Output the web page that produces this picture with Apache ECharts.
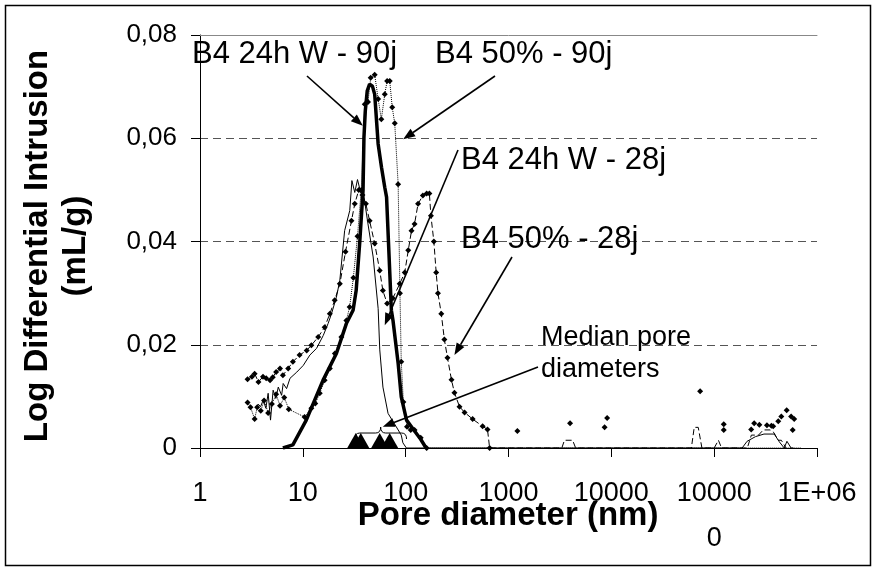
<!DOCTYPE html>
<html>
<head>
<meta charset="utf-8">
<script src="https://cdn.jsdelivr.net/npm/echarts@6/dist/echarts.min.js"></script>
<style>
html, body { margin: 0; padding: 0; background: #fff; }
#chart { width: 877px; height: 572px; }
</style>
</head>
<body>
<div id="chart"></div>
<script>
// pore diameter (nm) and log differential intrusion (mL/g)
const w90Pore = [6.4, 8.0, 10.8, 15.7, 21.2, 26.5, 30.8, 33, 35.8, 38.5, 39.3, 40.5, 42.3, 44.6, 47.5, 50, 54, 58.2, 62.6, 65.2, 72.6, 75.3, 84.5, 90.6, 102, 120, 140, 158];
const w90Val = [0, 0.0006, 0.0054, 0.0131, 0.0183, 0.0241, 0.0267, 0.0305, 0.040, 0.0499, 0.0602, 0.0653, 0.0692, 0.0705, 0.0701, 0.0685, 0.0589, 0.0544, 0.0505, 0.0486, 0.0267, 0.0247, 0.0164, 0.0099, 0.0054, 0.0035, 0.0017, 0];

const w28Pore = [3.55, 3.68, 3.88, 4.12, 4.37, 4.6, 4.85, 5.14, 5.47, 5.77, 6.22, 6.44, 6.95, 7.5, 8.73, 10.1, 11.7, 13.6, 15.8, 17.6, 19, 21.2, 22.9, 25.5, 28.6, 30, 32, 34, 36, 38.5, 43, 48.3, 54, 56, 60.1, 67.4, 81.1, 90.6, 94, 101.7, 187000, 209000, 252000, 305000, 384000, 430000, 480000, 510000, 530000, 560000, 590000];
const w28Val = [0.0077, 0.0085, 0.008, 0.0093, 0.0077, 0.0106, 0.0054, 0.0112, 0.0096, 0.0118, 0.0102, 0.0125, 0.0115, 0.0135, 0.0147, 0.016, 0.018, 0.0193, 0.0218, 0.0241, 0.026, 0.0292, 0.0325, 0.0421, 0.046, 0.0518, 0.0495, 0.052, 0.05, 0.0499, 0.0434, 0.037, 0.027, 0.019, 0.0118, 0.0067, 0.0041, 0.0025, 0.001, 0, 0, 0.0013, 0.0022, 0.0027, 0.0027, 0.0012, 0, 0.0013, 0.0013, 0, 0];

const p90Pore = [2.9, 3.1, 3.4, 3.6, 3.9, 4.2, 4.6, 5.0, 5.5, 6.0, 6.6, 7.3, 10.4, 12.1, 13.2, 14.6, 16.3, 18.3, 20.5, 23.7, 26.5, 28.5, 31, 34, 37, 40, 43, 45.7, 50, 54, 58, 62.6, 66, 70, 74, 78.3, 84.5, 88, 90.6, 95, 103, 112, 122, 140, 160, 700000];
const p90Val = [0.0088, 0.0079, 0.0056, 0.0079, 0.0072, 0.0092, 0.0068, 0.0085, 0.0104, 0.0082, 0.0098, 0.0075, 0.006, 0.0077, 0.0086, 0.0106, 0.0131, 0.0154, 0.0183, 0.0215, 0.0247, 0.0273, 0.033, 0.041, 0.05, 0.0666, 0.067, 0.0717, 0.0723, 0.0676, 0.0637, 0.0685, 0.0711, 0.0711, 0.066, 0.0629, 0.0511, 0.03, 0.0167, 0.0089, 0.0041, 0.0035, 0.0035, 0.002, 0, 0];
// isolated points of the same run at large diameters
const p90TailPore = [1220, 3970, 8600, 9100, 73000, 124000, 124000, 229000, 245000, 275000, 326000, 360000, 375000, 420000, 450000, 507000, 560000, 580000, 600000];
const p90TailVal = [0.0033, 0.0048, 0.004, 0.0058, 0.011, 0.0046, 0.0035, 0.0036, 0.0048, 0.0045, 0.0044, 0.0043, 0.0042, 0.0052, 0.0061, 0.0073, 0.0061, 0.0035, 0.0056];

const p28Pore = [2.9, 3.2, 3.4, 3.7, 4.1, 4.4, 4.8, 5.1, 5.5, 6.0, 6.4, 7.2, 8.0, 9.3, 10.9, 12.1, 14.1, 16.3, 18.3, 20.4, 22.9, 26, 29.7, 32, 35, 38, 41, 44.6, 50, 55.9, 60, 66, 75, 87.5, 98, 106, 114, 122, 132, 147, 160, 170, 176, 188, 198, 206, 222, 238, 255, 279, 298, 334, 374, 448, 560, 625, 655, 3300, 3500, 4200, 4500, 60000, 64000, 70000, 76000, 100000, 110000, 118000, 210000, 230000, 270000, 300000, 350000, 380000, 420000, 450000, 500000];
const p28Val = [0.0133, 0.0138, 0.0144, 0.0128, 0.0138, 0.0135, 0.0131, 0.0137, 0.0147, 0.0154, 0.0141, 0.0154, 0.0167, 0.018, 0.0189, 0.0199, 0.0215, 0.0234, 0.026, 0.0286, 0.0318, 0.038, 0.044, 0.0473, 0.05, 0.049, 0.0473, 0.044, 0.0396, 0.0344, 0.0305, 0.028, 0.029, 0.0318, 0.034, 0.0383, 0.0421, 0.0434, 0.0473, 0.0489, 0.0493, 0.0493, 0.045, 0.04, 0.034, 0.030, 0.026, 0.021, 0.0175, 0.0132, 0.0107, 0.008, 0.0069, 0.0056, 0.0042, 0.0036, 0, 0, 0.0015, 0.0015, 0, 0, 0.004, 0.004, 0, 0, 0.0015, 0, 0, 0.0025, 0.0025, 0.0035, 0.0035, 0.003, 0.0015, 0.0015, 0];

// median pore diameters (triangles on the axis)
const medianPore = [32.7, 36.6, 55.9, 69.9];

const xTickLabels = ['1', '10', '100', '1000', '10000', '10000\n0', '1E+06'];
const yTickLabels = ['0', '0,02', '0,04', '0,06', '0,08'];

// annotations: label text, label position, arrow start (px) and arrow tip (data)
const notes = [
  { text: 'B4 24h W - 90j', x: 192, y: 54, size: 31, from: [307, 76], to: [38.3, 0.0624] },
  { text: 'B4 50% - 90j', x: 435, y: 54, size: 31, from: [495, 76], to: [94.5, 0.0598] },
  { text: 'B4 24h W - 28j', x: 461, y: 160, size: 31, from: [458, 150], to: [62.6, 0.0238] },
  { text: 'B4 50% - 28j', x: 461, y: 239, size: 31, from: [512, 257], to: [298, 0.018] },
  { text: 'Median pore\ndiameters', x: 541, y: 354, size: 27, from: [538, 367], to: [59.9, 0.0041] }
];
const braceRange = [32, 102];
const braceLevel = 0.0029;

const FONT = '"Liberation Sans", Arial, sans-serif';
const zip = (xs, ys) => xs.map((x, i) => [x, ys[i]]);

const chart = echarts.init(document.getElementById('chart'));

chart.setOption({
  animation: false,
  grid: { left: 200, right: 60, top: 35, bottom: 124 },
  xAxis: [{
    type: 'log',
    logBase: 10,
    min: 1,
    max: 1000000,
    splitNumber: 6,
    axisLine: { lineStyle: { color: '#000', width: 1 } },
    axisTick: { show: true, length: 9, lineStyle: { color: '#000' } },
    minorTick: { show: false },
    splitLine: { show: false },
    axisLabel: {
      color: '#000', fontFamily: FONT, fontSize: 27, margin: 23, lineHeight: 45,
      formatter: v => xTickLabels[Math.round(Math.log10(v))]
    }
  }, {
    type: 'log',
    min: 1,
    max: 1000000,
    position: 'top',
    axisLine: { show: true, lineStyle: { color: '#888' } },
    axisTick: { show: false },
    axisLabel: { show: false },
    splitLine: { show: false }
  }],
  yAxis: {
    type: 'value',
    min: 0,
    max: 0.08,
    interval: 0.02,
    axisLine: { show: true, lineStyle: { color: '#000' } },
    axisTick: { show: true, length: 9, lineStyle: { color: '#000' } },
    axisLabel: {
      color: '#000', fontFamily: FONT, fontSize: 26, margin: 23,
      formatter: (v, i) => yTickLabels[i]
    },
    splitLine: { show: true, lineStyle: { color: '#555', type: [8, 5] } }
  },
  series: [
    {
      name: 'B4 50% - 28j', type: 'line', data: zip(p28Pore, p28Val),
      symbol: 'diamond', symbolSize: v => v[0] > 1000 ? 0 : 6,
      itemStyle: { color: '#000' },
      lineStyle: { color: '#000', width: 1, type: [6, 3] }, z: 2
    },
    {
      name: 'B4 50% - 90j', type: 'line', data: zip(p90Pore, p90Val),
      symbol: 'diamond', symbolSize: v => v[0] > 1000 ? 0 : 6,
      itemStyle: { color: '#000' },
      lineStyle: { color: '#000', width: 1, type: 'dotted' }, z: 3
    },
    {
      name: 'B4 50% - 90j (tail)', type: 'scatter', data: zip(p90TailPore, p90TailVal),
      symbol: 'diamond', symbolSize: 6,
      itemStyle: { color: '#000', opacity: 1 }, z: 3
    },
    {
      name: 'B4 24h W - 28j', type: 'line', data: zip(w28Pore, w28Val),
      showSymbol: false, lineStyle: { color: '#000', width: 1 }, z: 4
    },
    {
      name: 'B4 24h W - 90j', type: 'line', data: zip(w90Pore, w90Val),
      showSymbol: false, lineStyle: { color: '#000', width: 3.5 }, z: 5
    },
    {
      name: 'Median pore diameters', type: 'scatter', data: medianPore.map(d => [d, 0]),
      symbol: 'triangle', symbolSize: [17, 15], symbolOffset: [0, -7.5],
      itemStyle: { color: '#000', opacity: 1 }, z: 6
    }
  ]
});

// annotation layer, anchored to data positions
const px = p => chart.convertToPixel({ gridIndex: 0 }, p);
const graphic = [];

graphic.push({
  type: 'rect', z: 100, silent: true,
  shape: { x: 5.5, y: 5.5, width: 865, height: 560 },
  style: { fill: 'none', stroke: '#000', lineWidth: 1.5 }
});
graphic.push({
  type: 'text', z: 100, x: 57, y: 246, rotation: Math.PI / 2,
  style: { text: 'Log Differential Intrusion\n(mL/g)', font: 'bold 33px ' + FONT, fill: '#000', align: 'center', verticalAlign: 'middle', lineHeight: 38 }
});
graphic.push({
  type: 'text', z: 100, x: 508, y: 516,
  style: { text: 'Pore diameter (nm)', font: 'bold 33px ' + FONT, fill: '#000', align: 'center', verticalAlign: 'middle' }
});

notes.forEach(n => {
  graphic.push({
    type: 'text', z: 100, x: n.x, y: n.y,
    style: { text: n.text, font: n.size + 'px ' + FONT, fill: '#000', align: 'left', verticalAlign: 'middle', lineHeight: 32 }
  });
  const t = px(n.to);
  const s = n.from;
  const dx = t[0] - s[0], dy = t[1] - s[1];
  const len = Math.sqrt(dx * dx + dy * dy);
  const ux = dx / len, uy = dy / len;
  const L = 12, W = 4.5;
  const bx = t[0] - ux * L, by = t[1] - uy * L;
  graphic.push({
    type: 'line', z: 100,
    shape: { x1: s[0], y1: s[1], x2: bx, y2: by },
    style: { stroke: '#000', lineWidth: 1.6 }
  });
  graphic.push({
    type: 'polygon', z: 100,
    shape: { points: [[t[0], t[1]], [bx - uy * W, by + ux * W], [bx + uy * W, by - ux * W]] },
    style: { fill: '#000' }
  });
});

// curly brace over the median markers
const b1 = px([braceRange[0], braceLevel]);
const b2 = px([braceRange[1], braceLevel]);
const bm = (b1[0] + b2[0]) / 2;
const y0 = b1[1];
const braceStyle = { fill: 'none', stroke: '#000', lineWidth: 1 };
graphic.push(
  { type: 'bezierCurve', z: 100, shape: { x1: b1[0], y1: y0 + 6, cpx1: b1[0], cpy1: y0, x2: b1[0] + 5, y2: y0 }, style: braceStyle },
  { type: 'line', z: 100, shape: { x1: b1[0] + 5, y1: y0, x2: bm - 5, y2: y0 }, style: braceStyle },
  { type: 'bezierCurve', z: 100, shape: { x1: bm - 5, y1: y0, cpx1: bm, cpy1: y0, x2: bm, y2: y0 - 6 }, style: braceStyle },
  { type: 'bezierCurve', z: 100, shape: { x1: bm, y1: y0 - 6, cpx1: bm, cpy1: y0, x2: bm + 5, y2: y0 }, style: braceStyle },
  { type: 'line', z: 100, shape: { x1: bm + 5, y1: y0, x2: b2[0] - 5, y2: y0 }, style: braceStyle },
  { type: 'bezierCurve', z: 100, shape: { x1: b2[0] - 5, y1: y0, cpx1: b2[0], cpy1: y0, x2: b2[0], y2: y0 + 6 }, style: braceStyle }
);

chart.setOption({ graphic: graphic });
</script>
</body>
</html>
